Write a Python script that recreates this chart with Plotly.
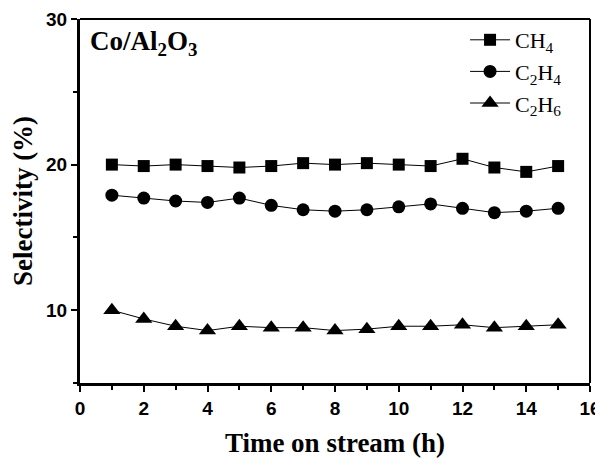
import plotly.graph_objects as go

time_h = [1, 2, 3, 4, 5, 6, 7, 8, 9, 10, 11, 12, 13, 14, 15]
ch4 = [20.0, 19.9, 20.0, 19.9, 19.8, 19.9, 20.1, 20.0, 20.1, 20.0, 19.9, 20.4, 19.8, 19.5, 19.9]
c2h4 = [17.9, 17.7, 17.5, 17.4, 17.7, 17.2, 16.9, 16.8, 16.9, 17.1, 17.3, 17.0, 16.7, 16.8, 17.0]
c2h6 = [10.0, 9.4, 8.9, 8.6, 8.9, 8.8, 8.8, 8.6, 8.7, 8.9, 8.9, 9.0, 8.8, 8.9, 9.0]
series_names = ["CH<sub>4</sub>", "C<sub>2</sub>H<sub>4</sub>", "C<sub>2</sub>H<sub>6</sub>"]
x_ticks = [0, 2, 4, 6, 8, 10, 12, 14, 16]
y_ticks = [10, 20, 30]

fig = go.Figure()
for name, vals, sym, sz in zip(series_names, [ch4, c2h4, c2h6],
                               ["square", "circle", "triangle-up"], [12, 13, 15]):
    fig.add_trace(go.Scatter(
        x=time_h, y=vals, name=name, mode="lines+markers",
        line=dict(color="black", width=1),
        marker=dict(symbol=sym, size=sz, color="black"),
    ))

fig.add_annotation(
    text="<b>Co/Al<sub>2</sub>O<sub>3</sub></b>", xref="paper", yref="paper",
    x=0.015, y=0.985, xanchor="left", yanchor="top", showarrow=False,
    font=dict(family="Liberation Serif", size=27, color="black"),
)

# thinner top/right frame
fig.add_shape(type="line", xref="paper", yref="paper", x0=0, x1=1, y0=1, y1=1,
              line=dict(color="black", width=2))
fig.add_shape(type="line", xref="paper", yref="paper", x0=1, x1=1, y0=0, y1=1,
              line=dict(color="black", width=2))

fig.update_layout(
    width=595, height=455,
    margin=dict(l=72, r=13, t=11, b=80),
    paper_bgcolor="white", plot_bgcolor="white",
    showlegend=True,
    legend=dict(
        x=0.755, y=1.0, xanchor="left", yanchor="top",
        font=dict(family="Liberation Serif", size=22, color="black"),
        bgcolor="rgba(0,0,0,0)", itemwidth=40, tracegroupgap=0,
    ),
    xaxis=dict(
        range=[0, 16], tickmode="array", tickvals=x_ticks,
        ticks="outside", ticklen=6, tickwidth=2, tickcolor="black",
        minor=dict(tickvals=[1, 3, 5, 7, 9, 11, 13, 15], ticks="outside", ticklen=4, tickwidth=2, tickcolor="black"),
        showline=True, linewidth=3, linecolor="black", mirror=False,
        showgrid=False, zeroline=False, automargin=False,
        tickfont=dict(family="Liberation Sans", size=19, color="black", weight="bold"),
        title=dict(text="<b>Time on stream (h)</b>", standoff=16,
                   font=dict(family="Liberation Serif", size=27, color="black")),
    ),
    yaxis=dict(
        range=[5, 30], tickmode="array", tickvals=y_ticks,
        ticks="outside", ticklen=6, tickwidth=2, tickcolor="black",
        minor=dict(tickvals=[5, 15, 25], ticks="outside", ticklen=4, tickwidth=2, tickcolor="black"),
        showline=True, linewidth=3, linecolor="black", mirror=False,
        showgrid=False, zeroline=False, automargin=False,
        tickfont=dict(family="Liberation Sans", size=19, color="black", weight="bold"),
        title=dict(text="<b>Selectivity (%)</b>", standoff=10,
                   font=dict(family="Liberation Serif", size=27, color="black")),
    ),
)

fig.write_html("out.html")
